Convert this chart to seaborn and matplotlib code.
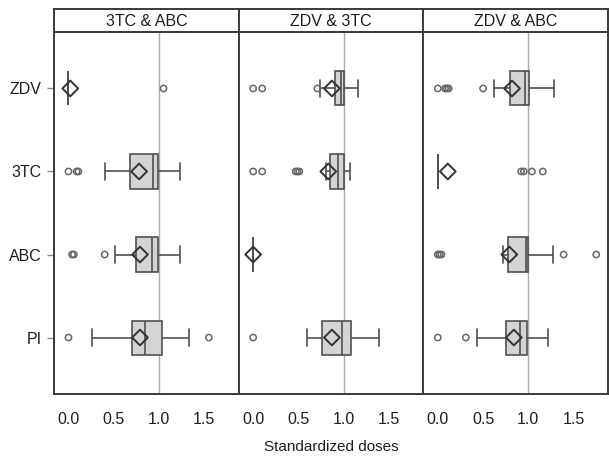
import matplotlib
matplotlib.use("Agg")
import matplotlib.pyplot as plt
import seaborn as sns
import pandas as pd

panels = ["3TC & ABC", "ZDV & 3TC", "ZDV & ABC"]
drugs = ["ZDV", "3TC", "ABC", "PI"]

# five-number summaries, panel by panel, drugs in the order above
whisker_low = [0.0, 0.40, 0.51, 0.26, 0.74, 0.80, 0.0, 0.60, 0.62, 0.0, 0.72, 0.43]
q1 = [0.0, 0.68, 0.75, 0.70, 0.90, 0.85, 0.0, 0.76, 0.80, 0.0, 0.77, 0.75]
median = [0.0, 0.93, 0.92, 0.84, 0.97, 0.94, 0.0, 0.98, 0.96, 0.0, 0.97, 0.91]
q3 = [0.0, 0.99, 0.99, 1.03, 1.00, 1.00, 0.0, 1.08, 1.01, 0.0, 1.00, 0.98]
whisker_high = [0.0, 1.23, 1.23, 1.33, 1.16, 1.07, 0.0, 1.39, 1.28, 0.0, 1.27, 1.22]
means = [0.02, 0.78, 0.79, 0.79, 0.87, 0.83, 0.0, 0.87, 0.82, 0.11, 0.79, 0.84]
outliers = [
    [1.05], [0.0, 0.09, 0.11], [0.04, 0.06, 0.40], [0.0, 1.55],
    [0.0, 0.10, 0.71], [0.0, 0.10, 0.47, 0.49, 0.51], [], [0.0],
    [0.0, 0.08, 0.10, 0.12, 0.50], [0.92, 0.95, 1.04, 1.16], [0.0, 0.02, 0.04, 1.39, 1.75], [0.0, 0.31],
]

groups = [(p, d) for p in panels for d in drugs]
box_rows, mean_rows, out_rows = [], [], []
for i, (p, d) in enumerate(groups):
    for v in (whisker_low[i], q1[i], median[i], q3[i], whisker_high[i]):
        box_rows.append((p, d, v))
    mean_rows.append((p, d, means[i]))
    for v in outliers[i]:
        out_rows.append((p, d, v))
box_df = pd.DataFrame(box_rows, columns=["panel", "drug", "dose"])
mean_df = pd.DataFrame(mean_rows, columns=["panel", "drug", "dose"])
out_df = pd.DataFrame(out_rows, columns=["panel", "drug", "dose"])

sns.set_style("white")
plt.rcParams["font.family"] = ["Liberation Sans", "DejaVu Sans"]
txt = "#1e1e1e"

fig = plt.figure(figsize=(6.09, 4.59), dpi=100)
gs = fig.add_gridspec(
    2, 3, height_ratios=[23, 362], hspace=0, wspace=0,
    left=54 / 609, right=608 / 609, top=1 - 9 / 459, bottom=1 - 394 / 459,
)

frame = "#3a3a3a"
for j, p in enumerate(panels):
    hax = fig.add_subplot(gs[0, j])
    hax.set_xticks([])
    hax.set_yticks([])
    for s in hax.spines.values():
        s.set_color(frame)
        s.set_linewidth(1.4)
    hax.text(0.5, 0.46, p, ha="center", va="center", fontsize=11.5, color=txt,
             transform=hax.transAxes)

    ax = fig.add_subplot(gs[1, j])
    ax.axvline(1.0, color="#aaaaaa", lw=1, zorder=0)
    sns.boxplot(
        data=box_df[box_df.panel == p], x="dose", y="drug", order=drugs,
        whis=(0, 100), showfliers=False, width=0.41, color="#d4d4d4",
        saturation=1, linecolor="#505050", linewidth=1.2, ax=ax,
    )
    sns.stripplot(
        data=out_df[out_df.panel == p], x="dose", y="drug", order=drugs,
        jitter=False, marker="o", size=4.5, facecolor="none",
        edgecolor="#666666", linewidth=1.1, zorder=3, ax=ax,
    )
    sns.stripplot(
        data=mean_df[mean_df.panel == p], x="dose", y="drug", order=drugs,
        jitter=False, marker="D", size=8, facecolor="none",
        edgecolor="#333333", linewidth=1.4, zorder=4, ax=ax,
    )
    for coll in ax.collections:
        coll.set_facecolor("none")

    ax.set_xlim(-0.16, 1.88)
    ax.set_ylim(3.68, -0.68)
    ax.set_xticks([0, 0.5, 1.0, 1.5])
    ax.set_xticklabels(["0.0", "0.5", "1.0", "1.5"])
    ax.set_xlabel("")
    ax.set_ylabel("")
    ax.set_facecolor("white")
    for s in ax.spines.values():
        s.set_color(frame)
        s.set_linewidth(1.4)
    ax.tick_params(axis="x", length=6, width=1, color="#888888", labelsize=11.5,
                   labelcolor=txt, pad=7)
    if j == 0:
        ax.tick_params(axis="y", length=5, width=1, color="#888888", labelsize=11.5,
                       labelcolor=txt, pad=4, left=True)
    else:
        ax.tick_params(axis="y", left=False, labelleft=False)

fig.text((54 + 608) / 2 / 609, 1 - 447 / 459, "Standardized doses", ha="center",
         va="center", fontsize=11, color=txt)

fig.savefig("out.png", dpi=100)
